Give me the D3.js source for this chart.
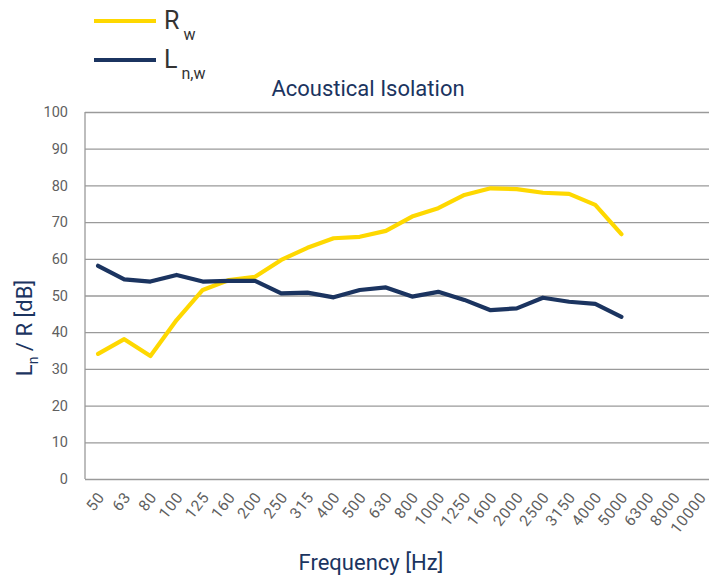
<!DOCTYPE html>
<html>
<head>
<meta charset="utf-8">
<script src="https://cdn.jsdelivr.net/npm/d3@7"></script>
<style>
  body { margin: 0; background: #fff; }
  svg { display: block; font-family: Roboto, sans-serif; }
</style>
</head>
<body>
<div id="chart"></div>
<script>
// frequency bands (Hz)
const frequencies = ["50", "63", "80", "100", "125", "160", "200", "250", "315", "400", "500",
  "630", "800", "1000", "1250", "1600", "2000", "2500", "3150", "4000", "5000", "6300", "8000", "10000"];

// airborne sound reduction R (dB), 50..5000 Hz
const rw = [34.1, 38.1, 33.5, 43.3, 51.5, 54.2, 55.1, 59.7, 63.0, 65.6, 66.0,
  67.6, 71.5, 73.8, 77.4, 79.2, 79.0, 78.0, 77.7, 74.7, 66.7];

// impact sound level Ln (dB), 50..5000 Hz
const lnw = [58.1, 54.4, 53.8, 55.6, 53.8, 54.0, 54.0, 50.6, 50.8, 49.5, 51.5,
  52.2, 49.7, 51.0, 48.8, 46.0, 46.5, 49.4, 48.3, 47.7, 44.2];

const yTicks = [0, 10, 20, 30, 40, 50, 60, 70, 80, 90, 100];

const width = 709, height = 575;
const marginLeft = 85, marginTop = 112, marginBottom = 96, marginRight = -4;

const yellow = "#fed800", navy = "#1b3460", grid = "#9a9a9a", tickColor = "#5f5f5f";

const svg = d3.select("#chart").append("svg")
    .attr("width", width)
    .attr("height", height);

const x = d3.scaleBand()
    .domain(frequencies)
    .range([marginLeft, width - marginRight])
    .padding(0);

const y = d3.scaleLinear()
    .domain([0, 100])
    .range([height - marginBottom, marginTop]);

// gridlines + y labels
const yAxis = d3.axisLeft(y).tickValues(yTicks).tickSize(0).tickPadding(17);
svg.append("g")
    .attr("transform", `translate(${marginLeft},0)`)
    .call(yAxis)
    .call(g => g.select(".domain").remove())
    .call(g => g.selectAll(".tick text")
        .attr("fill", tickColor)
        .attr("font-size", 14.5)
        .attr("font-family", "Roboto, sans-serif"))
    .call(g => g.selectAll(".tick line").clone()
        .attr("x2", width - marginLeft + 10)
        .attr("stroke", grid)
        .attr("stroke-width", 1.3));

// left axis line
svg.append("line")
    .attr("x1", marginLeft).attr("x2", marginLeft)
    .attr("y1", y(100)).attr("y2", y(0))
    .attr("stroke", grid)
    .attr("stroke-width", 1.3);

// x labels, rotated
const xAxis = d3.axisBottom(x).tickSize(0).tickPadding(0);
svg.append("g")
    .attr("transform", `translate(0,${y(0)})`)
    .call(xAxis)
    .call(g => g.select(".domain").remove())
    .call(g => g.selectAll(".tick text")
        .attr("fill", tickColor)
        .attr("font-size", 15.5)
        .attr("letter-spacing", 0.8)
        .attr("font-family", "Roboto, sans-serif")
        .attr("text-anchor", "end")
        .attr("dy", "0.35em")
        .attr("transform", "translate(3,15) rotate(-52)"));

const line = d3.line()
    .x((d, i) => x(frequencies[i]) + x.bandwidth() / 2)
    .y(d => y(d));

svg.append("path")
    .attr("fill", "none")
    .attr("stroke", yellow)
    .attr("stroke-width", 4.2)
    .attr("stroke-linejoin", "round")
    .attr("stroke-linecap", "round")
    .attr("d", line(rw));

svg.append("path")
    .attr("fill", "none")
    .attr("stroke", navy)
    .attr("stroke-width", 4.2)
    .attr("stroke-linejoin", "round")
    .attr("stroke-linecap", "round")
    .attr("d", line(lnw));

// title
svg.append("text")
    .attr("x", 368)
    .attr("y", 96)
    .attr("text-anchor", "middle")
    .attr("fill", navy)
    .attr("font-size", 22)
    .text("Acoustical Isolation");

// legend
const legend = [
  { color: yellow, main: "R", sub: "w", y: 21 },
  { color: navy, main: "L", sub: "n,w", y: 60 }
];
legend.forEach(d => {
  svg.append("line")
      .attr("x1", 94).attr("x2", 156)
      .attr("y1", d.y).attr("y2", d.y)
      .attr("stroke", d.color)
      .attr("stroke-width", 4);
  const t = svg.append("text")
      .attr("x", 164)
      .attr("y", d.y + 8)
      .attr("fill", "#333")
      .attr("font-size", 25);
  t.append("tspan").text(d.main);
  t.append("tspan")
      .attr("dx", 4)
      .attr("dy", 11)
      .attr("font-size", 16)
      .text(d.sub);
});

// y axis title
const yt = svg.append("text")
    .attr("transform", "translate(32,328) rotate(-90)")
    .attr("text-anchor", "middle")
    .attr("fill", navy)
    .attr("font-size", 22);
yt.append("tspan").text("L");
yt.append("tspan").attr("dy", 6).attr("font-size", 14).text("n");
yt.append("tspan").attr("dy", -6).text(" / R [dB]");

// x axis title
svg.append("text")
    .attr("x", 371)
    .attr("y", 570)
    .attr("text-anchor", "middle")
    .attr("fill", navy)
    .attr("font-size", 22)
    .text("Frequency [Hz]");
</script>
</body>
</html>
